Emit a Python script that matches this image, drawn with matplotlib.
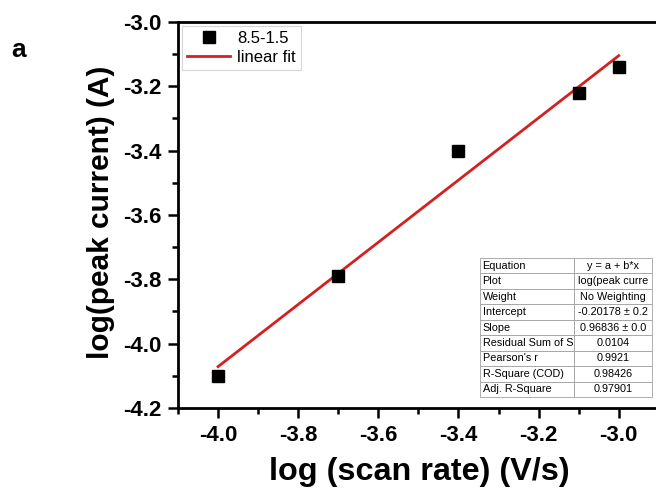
import numpy as np
import matplotlib
matplotlib.use("Agg")
import matplotlib.pyplot as plt
from matplotlib.ticker import MultipleLocator

plt.rcParams["font.family"] = ["Liberation Sans", "DejaVu Sans"]

# data
log_scan_rate = [-4.0, -3.7, -3.4, -3.1, -3.0]
log_peak_current = [-4.10, -3.79, -3.40, -3.22, -3.14]

fit_labels = ["Equation", "Plot", "Weight", "Intercept", "Slope",
              "Residual Sum of S", "Pearson's r", "R-Square (COD)", "Adj. R-Square"]
fit_values = ["y = a + b*x", "log(peak curre", "No Weighting", "-0.20178 \u00b1 0.2",
              "0.96836 \u00b1 0.0", "0.0104", "0.9921", "0.98426", "0.97901"]

slope, intercept = np.polyfit(log_scan_rate, log_peak_current, 1)
fit_x = np.array([log_scan_rate[0], log_scan_rate[-1]])
fit_y = intercept + slope * fit_x

fig = plt.figure(figsize=(6.56, 5.0), dpi=100)
ax = fig.add_axes([0.2713, 0.184, 0.73, 0.772])

ax.plot(log_scan_rate, log_peak_current, "s", color="black", markersize=8,
        label="8.5-1.5", zorder=3)
ax.plot(fit_x, fit_y, "-", color="#d42020", linewidth=2, label="linear fit")

ax.set_xlim(-4.1, -2.905)
ax.set_ylim(-4.2, -3.0)
ax.xaxis.set_major_locator(MultipleLocator(0.2))
ax.xaxis.set_minor_locator(MultipleLocator(0.1))
ax.yaxis.set_major_locator(MultipleLocator(0.2))
ax.yaxis.set_minor_locator(MultipleLocator(0.1))
ax.xaxis.set_major_formatter(lambda v, p: f"{v:.1f}")
ax.yaxis.set_major_formatter(lambda v, p: f"{v:.1f}")

for s in ["left", "bottom", "top"]:
    ax.spines[s].set_linewidth(2)
ax.spines["right"].set_visible(False)
ax.tick_params(which="both", direction="out", width=1.8, top=False, right=False)
ax.tick_params(which="major", length=7, labelsize=16, pad=5)
ax.tick_params(which="minor", length=4)
for lab in ax.get_xticklabels() + ax.get_yticklabels():
    lab.set_fontweight("bold")

ax.set_xlabel("log (scan rate) (V/s)", fontsize=23.3, fontweight="bold")
ax.set_ylabel("log(peak current) (A)", fontsize=21.5, fontweight="bold")
ax.xaxis.set_label_coords(0.503, -0.166)
ax.yaxis.set_label_coords(-0.161, 0.508)
ax.xaxis.label.set_va("center")
ax.yaxis.label.set_va("center")

leg = ax.legend(loc="upper left", fontsize=12, frameon=True, fancybox=False,
                borderaxespad=0.25, handlelength=2.6, borderpad=0.3,
                labelspacing=0.2, handletextpad=0.4)
leg.get_frame().set_edgecolor("#cccccc")
leg.get_frame().set_linewidth(0.8)

fig.text(0.029, 0.9, "a", fontsize=19, fontweight="bold", ha="center", va="center")

# fit results table
tab = ax.table(cellText=[[a, b] for a, b in zip(fit_labels, fit_values)],
               colWidths=[0.55, 0.45],
               bbox=[0.630, 0.0285, 0.359, 0.36], zorder=4)
tab.auto_set_font_size(False)
tab.set_fontsize(7.8)
for (r, c), cell in tab.get_celld().items():
    cell.set_edgecolor("#a0a0a0")
    cell.set_linewidth(0.6)
    cell.set_facecolor("white")
    cell.get_text().set_ha("left" if c == 0 else "center")
    if c == 0:
        cell.PAD = 0.03

fig.savefig("out.png", dpi=100)
